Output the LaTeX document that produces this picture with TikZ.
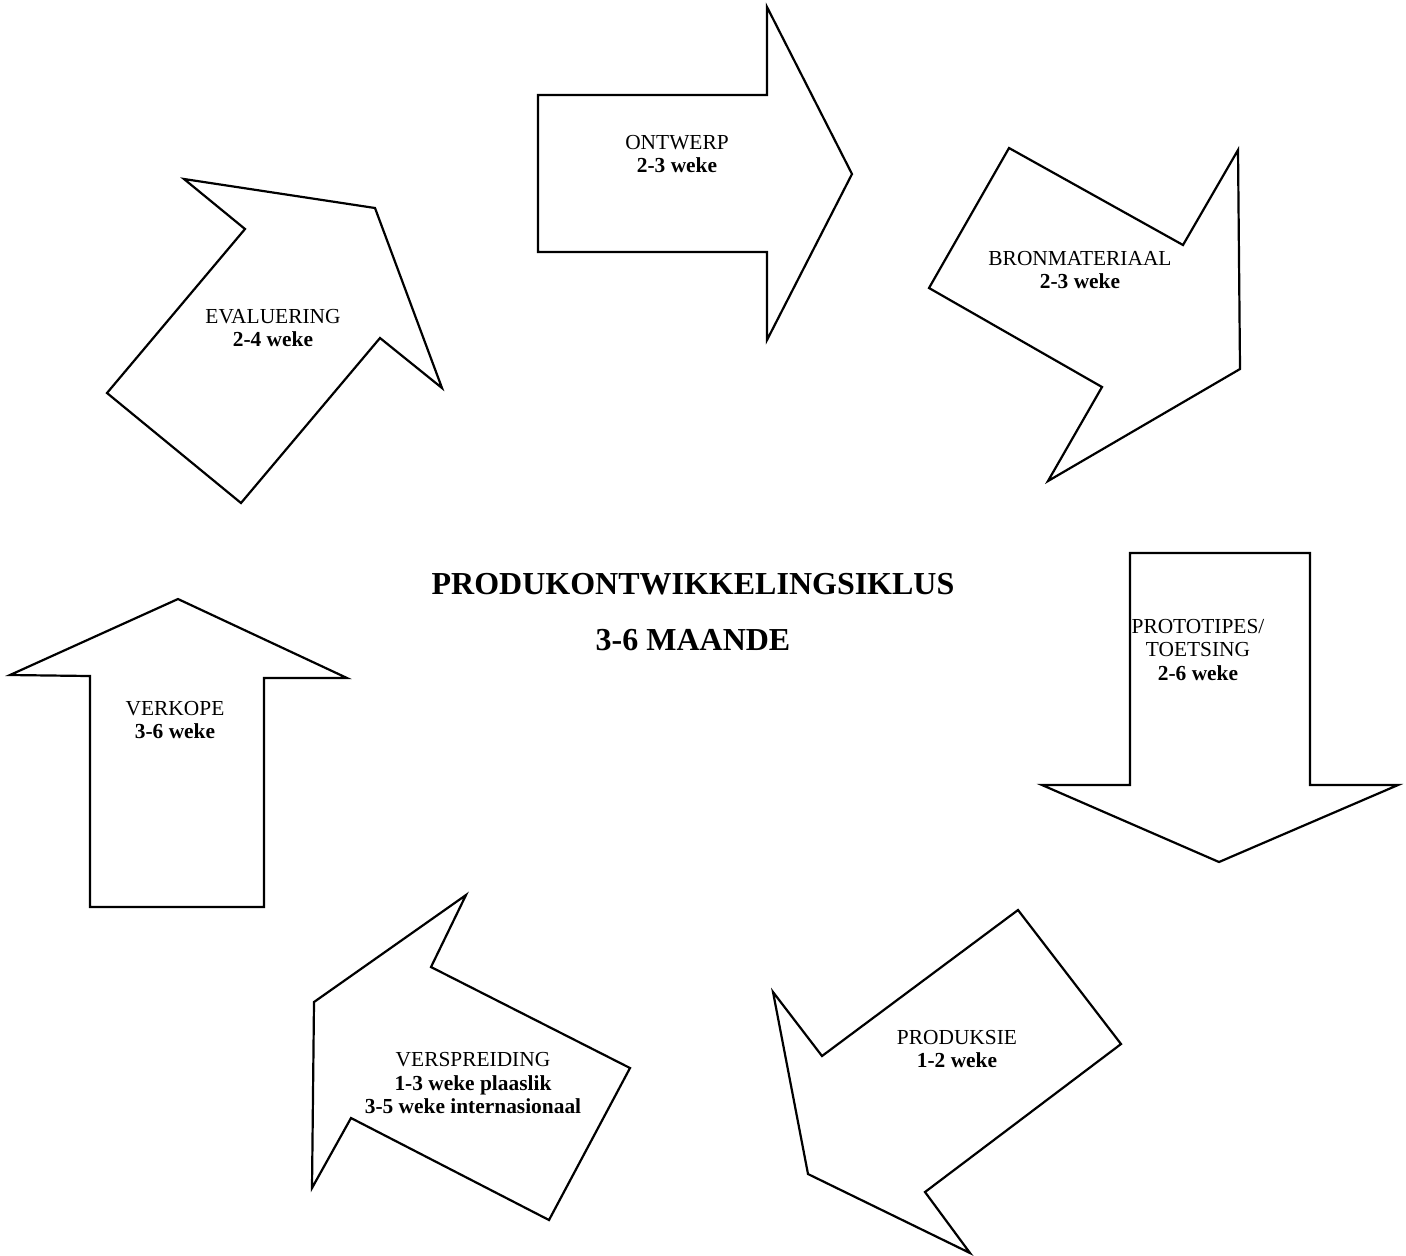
\documentclass[tikz,border=0pt]{standalone}
\usepackage{fontspec}
\setmainfont{Liberation Serif}
\begin{document}
\begin{tikzpicture}[x=0.5pt,y=-0.5pt,
  arrowshape/.style={draw=black,line width=1.1pt,line join=miter,fill=white},
  phase/.style={align=center,font=\fontsize{10.7}{11.6}\selectfont,inner sep=0pt},
  heading/.style={font=\fontsize{16}{19}\selectfont\bfseries,inner sep=0pt}]
\useasboundingbox (0,0) rectangle (1406,1255);

% ONTWERP (pointing right)
\draw[arrowshape] (767,7) -- (852,174) -- (767,340) -- (767,252) -- (538,252)
  -- (538,95) -- (767,95) -- cycle;
% BRONMATERIAAL (pointing down-right)
\draw[arrowshape] (1009,148) -- (1183,245) -- (1238,150) -- (1240,369)
  -- (1048,481) -- (1102,387) -- (929,288) -- cycle;
% PROTOTIPES / TOETSING (pointing down)
\draw[arrowshape] (1130,553) -- (1310,553) -- (1310,785) -- (1398,785)
  -- (1219,862) -- (1042,785) -- (1130,785) -- cycle;
% PRODUKSIE (pointing down-left)
\draw[arrowshape] (1018,910) -- (1121,1044) -- (925,1192) -- (970,1253)
  -- (808,1174) -- (773,992) -- (822,1056) -- cycle;
% VERSPREIDING (pointing up-left)
\draw[arrowshape] (466,895) -- (431,967) -- (630,1068) -- (549,1220)
  -- (351,1118) -- (312,1188) -- (314,1002) -- cycle;
% VERKOPE (pointing up)
\draw[arrowshape] (178,599) -- (347,678) -- (264,678) -- (264,907)
  -- (90,907) -- (90,676) -- (10,675) -- cycle;
% EVALUERING (pointing up-right)
\draw[arrowshape] (184,179) -- (375,208) -- (442,388) -- (380,338)
  -- (241,503) -- (107,393) -- (245,229) -- cycle;

% Phase labels
\node[phase] (ontwerp) at (677,154) {ONTWERP\\\textbf{2-3 weke}};
\node[phase] (bron) at (1080,270) {BRONMATERIAAL\\\textbf{2-3 weke}};
\node[phase] (proto) at (1198,650) {PROTOTIPES/\\TOETSING\\\textbf{2-6 weke}};
\node[phase] (produksie) at (957,1049) {PRODUKSIE\\\textbf{1-2 weke}};
\node[phase] (verspreiding) at (473,1083) {VERSPREIDING\\\textbf{1-3 weke plaaslik}\\\textbf{3-5 weke internasionaal}};
\node[phase] (verkope) at (175,720) {VERKOPE\\\textbf{3-6 weke}};
\node[phase] (evaluering) at (273,328) {EVALUERING\\\textbf{2-4 weke}};

% Title in the centre
\node[heading] (title) at (693,584) {PRODUKONTWIKKELINGSIKLUS};
\node[heading] (duur) at (693,640) {3-6 MAANDE};
\end{tikzpicture}
\end{document}
